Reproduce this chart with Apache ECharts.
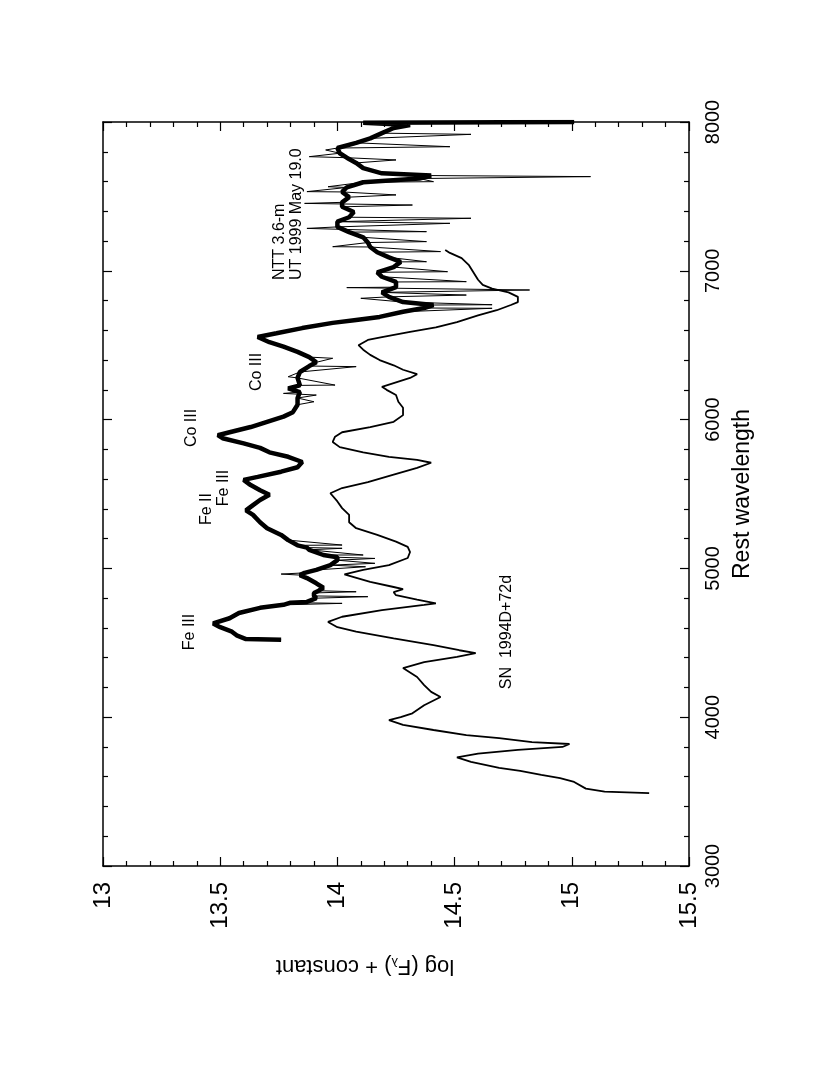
<!DOCTYPE html>
<html>
<head>
<meta charset="utf-8">
<script src="https://cdn.jsdelivr.net/npm/echarts@6/dist/echarts.min.js"></script>
<style>
html,body{margin:0;padding:0;background:#fff;}
#chart{width:830px;height:1075px;}
</style>
</head>
<body>
<div id="chart"></div>
<script>
// Axis ticks
const fluxTicks = [13, 13.5, 14, 14.5, 15, 15.5];
const wavelengthTicks = [3000, 4000, 5000, 6000, 7000, 8000];

// SN 1994D +72d (smooth spectrum)
const wavelengthA = [3490,3500,3520,3565,3590,3612,3640,3660,3700,3730,3755,3780,3800,3820,3833,3860,3880,3914,3948,3980,4000,4026,4080,4136,4170,4216,4270,4330,4370,4405,4430,4450,4485,4530,4575,4605,4640,4675,4720,4755,4765,4790,4820,4840,4860,4875,4910,4942,4960,4990,5022,5070,5110,5145,5180,5225,5270,5310,5360,5405,5450,5505,5540,5580,5630,5675,5710,5730,5750,5780,5815,5850,5885,5915,5950,5985,6030,6080,6120,6165,6200,6220,6245,6280,6305,6335,6365,6400,6435,6470,6500,6535,6555,6590,6620,6655,6700,6735,6770,6790,6825,6855,6880,6905,6940,6990,7040,7085,7120,7140];
const fluxA = [15.33,15.14,15.06,15.01,14.95,14.87,14.78,14.69,14.57,14.51,14.60,14.77,14.96,14.99,14.83,14.69,14.55,14.41,14.28,14.22,14.27,14.32,14.37,14.44,14.40,14.37,14.34,14.28,14.37,14.51,14.59,14.52,14.41,14.24,14.08,14.00,13.96,14.02,14.19,14.37,14.42,14.34,14.25,14.24,14.28,14.24,14.14,14.07,14.03,14.11,14.22,14.30,14.31,14.30,14.25,14.17,14.08,14.05,14.05,14.02,14.00,13.97,14.02,14.13,14.24,14.34,14.40,14.34,14.22,14.11,14.01,13.98,13.99,14.02,14.14,14.24,14.28,14.28,14.26,14.25,14.21,14.19,14.24,14.31,14.34,14.28,14.24,14.18,14.14,14.11,14.09,14.13,14.19,14.31,14.42,14.51,14.60,14.68,14.74,14.77,14.77,14.73,14.66,14.62,14.60,14.58,14.56,14.53,14.48,14.46];

// NTT 3.6-m, UT 1999 May 19.0 (noisy spectrum): running level
const wavelengthB = [4520,4525,4550,4575,4605,4630,4665,4700,4735,4755,4770,4775,4800,4815,4835,4850,4870,4900,4935,4955,4970,4990,5022,5055,5075,5090,5125,5140,5155,5190,5225,5270,5310,5360,5390,5425,5460,5495,5525,5560,5595,5615,5650,5680,5715,5750,5780,5810,5840,5875,5895,5915,5950,5985,6020,6050,6100,6145,6185,6210,6230,6280,6320,6360,6385,6420,6455,6490,6520,6555,6580,6615,6650,6670,6690,6725,6750,6770,6790,6825,6855,6890,6925,6960,6990,7025,7060,7090,7125,7160,7190,7225,7260,7295,7330,7360,7395,7430,7460,7495,7530,7560,7595,7620,7640,7655,7690,7725,7760,7790,7825,7860,7890,7925,7960,7980,7995,8000];
const fluxB = [13.76,13.61,13.57,13.55,13.50,13.47,13.54,13.58,13.67,13.77,13.80,13.87,13.91,13.90,13.90,13.92,13.94,13.91,13.87,13.84,13.86,13.91,13.97,14.00,14.00,13.94,13.88,13.87,13.83,13.79,13.76,13.70,13.67,13.64,13.61,13.64,13.67,13.71,13.67,13.63,13.60,13.66,13.76,13.83,13.85,13.79,13.71,13.67,13.60,13.51,13.49,13.54,13.63,13.70,13.77,13.81,13.83,13.83,13.84,13.79,13.84,13.83,13.84,13.88,13.91,13.88,13.83,13.77,13.71,13.66,13.74,13.85,13.98,14.08,14.18,14.28,14.37,14.41,14.28,14.22,14.19,14.25,14.25,14.19,14.17,14.24,14.27,14.22,14.17,14.14,14.13,14.11,14.05,14.00,14.00,14.05,14.07,14.02,14.02,14.05,14.02,14.04,14.11,14.35,14.40,14.19,14.11,14.08,14.04,14.01,14.00,14.08,14.14,14.19,14.24,14.31,14.11,15.01];

// NTT spectrum: individual noise spikes
const spikeWavelengthB = [4765,4810,4843,4962,5011,5034,5067,5090,5135,5157,6120,6165,6176,6232,6288,6356,6412,6748,6772,6815,6837,6871,6887,6927,6994,7061,7129,7162,7196,7263,7285,7319,7353,7442,7453,7510,7532,7565,7599,7633,7745,7767,7812,7834,7917];
const spikeFluxB = [14.02,14.13,14.08,13.76,14.12,14.16,14.16,14.11,14.02,14.02,13.90,13.91,13.77,13.99,13.79,14.08,13.98,14.66,14.66,14.10,14.55,14.82,14.04,14.55,14.47,14.38,14.44,13.98,14.38,14.38,13.87,14.48,14.57,14.32,13.86,14.25,13.87,13.96,14.41,15.08,14.25,13.88,13.95,14.48,14.57];

const FONT = '"Liberation Sans", Arial, Helvetica, sans-serif';

const seriesA = wavelengthA.map((w, i) => [fluxA[i], w]);
const seriesB = wavelengthB.map((w, i) => [fluxB[i], w]);
const seriesBNoisy = seriesB
  .concat(spikeWavelengthB.map((w, i) => [spikeFluxB[i], w]))
  .sort((p, q) => p[1] - q[1]);

const annotations = [
  { text: 'Fe III', x: 190, y: 632 },
  { text: 'Fe II', x: 207, y: 509 },
  { text: 'Fe III', x: 224, y: 488 },
  { text: 'Co III', x: 192, y: 428 },
  { text: 'Co III', x: 257, y: 372 },
  { text: 'SN  1994D+72d', x: 507, y: 632 }
];

const chart = echarts.init(document.getElementById('chart'), null, { renderer: 'canvas' });

const lineColor = '#000';
const axisCommon = {
  type: 'value',
  splitLine: { show: false },
  axisLine: { show: true, onZero: false, lineStyle: { color: lineColor, width: 1.5 } },
  axisTick: { show: true, inside: true, length: 9, lineStyle: { color: lineColor, width: 1.2 } },
  minorTick: { show: true, splitNumber: 5, length: 5, lineStyle: { color: lineColor, width: 1.2 } }
};

const graphics = annotations.map(a => ({
  type: 'text',
  x: a.x, y: a.y,
  rotation: Math.PI / 2,
  style: { text: a.text, fill: '#000', font: '16px ' + FONT, align: 'center', verticalAlign: 'middle' }
}));
graphics.push({
  type: 'text', x: 280, y: 280, rotation: Math.PI / 2,
  style: { text: 'NTT 3.6-m', fill: '#000', font: '16px ' + FONT, align: 'left', verticalAlign: 'middle' }
});
graphics.push({
  type: 'text', x: 297, y: 280, rotation: Math.PI / 2,
  style: { text: 'UT 1999 May 19.0', fill: '#000', font: '16px ' + FONT, align: 'left', verticalAlign: 'middle' }
});
graphics.push({
  type: 'text', x: 365, y: 966, rotation: Math.PI,
  style: {
    text: '{a|log (F}{s|λ}{a|) + constant}',
    align: 'center', verticalAlign: 'middle',
    rich: {
      a: { fontSize: 22, fontFamily: FONT, fill: '#000', color: '#000' },
      s: { fontSize: 13, fontFamily: FONT, fill: '#000', color: '#000', verticalAlign: 'bottom' }
    }
  }
});

chart.setOption({
  animation: false,
  backgroundColor: '#fff',
  grid: { left: 103, right: 141, top: 122, bottom: 209, containLabel: false },
  xAxis: [
    Object.assign({}, axisCommon, {
      position: 'bottom',
      min: fluxTicks[0], max: fluxTicks[fluxTicks.length - 1], interval: 0.5,
      axisLabel: { show: true, rotate: 90, margin: 16, fontSize: 24, color: '#000', fontFamily: FONT,
        formatter: v => String(v) }
    }),
    Object.assign({}, axisCommon, {
      position: 'top',
      min: fluxTicks[0], max: fluxTicks[fluxTicks.length - 1], interval: 0.5,
      axisLabel: { show: false }
    })
  ],
  yAxis: [
    Object.assign({}, axisCommon, {
      position: 'right',
      min: wavelengthTicks[0], max: wavelengthTicks[wavelengthTicks.length - 1], interval: 1000,
      axisLabel: { show: true, rotate: 90, margin: 14, fontSize: 20, color: '#000', fontFamily: FONT,
        formatter: v => String(v) },
      name: 'Rest wavelength', nameLocation: 'middle', nameRotate: 90, nameGap: 42,
      nameTextStyle: { fontSize: 23, color: '#000', fontFamily: FONT }
    }),
    Object.assign({}, axisCommon, {
      position: 'left',
      min: wavelengthTicks[0], max: wavelengthTicks[wavelengthTicks.length - 1], interval: 1000,
      axisLabel: { show: false }
    })
  ],
  series: [
    {
      type: 'line', name: 'SN 1994D+72d', data: seriesA, xAxisIndex: 0, yAxisIndex: 0,
      showSymbol: false, symbol: 'none', smooth: false, clip: true,
      lineStyle: { color: '#000', width: 1.8 }
    },
    {
      type: 'line', name: 'NTT band', data: seriesB, xAxisIndex: 0, yAxisIndex: 0,
      showSymbol: false, symbol: 'none', smooth: false, clip: true,
      lineStyle: { color: '#000', width: 4.5 }
    },
    {
      type: 'line', name: 'NTT noise', data: seriesBNoisy, xAxisIndex: 0, yAxisIndex: 0,
      showSymbol: false, symbol: 'none', smooth: false, clip: true,
      lineStyle: { color: '#000', width: 1 }
    }
  ],
  graphic: graphics
});
</script>
</body>
</html>
